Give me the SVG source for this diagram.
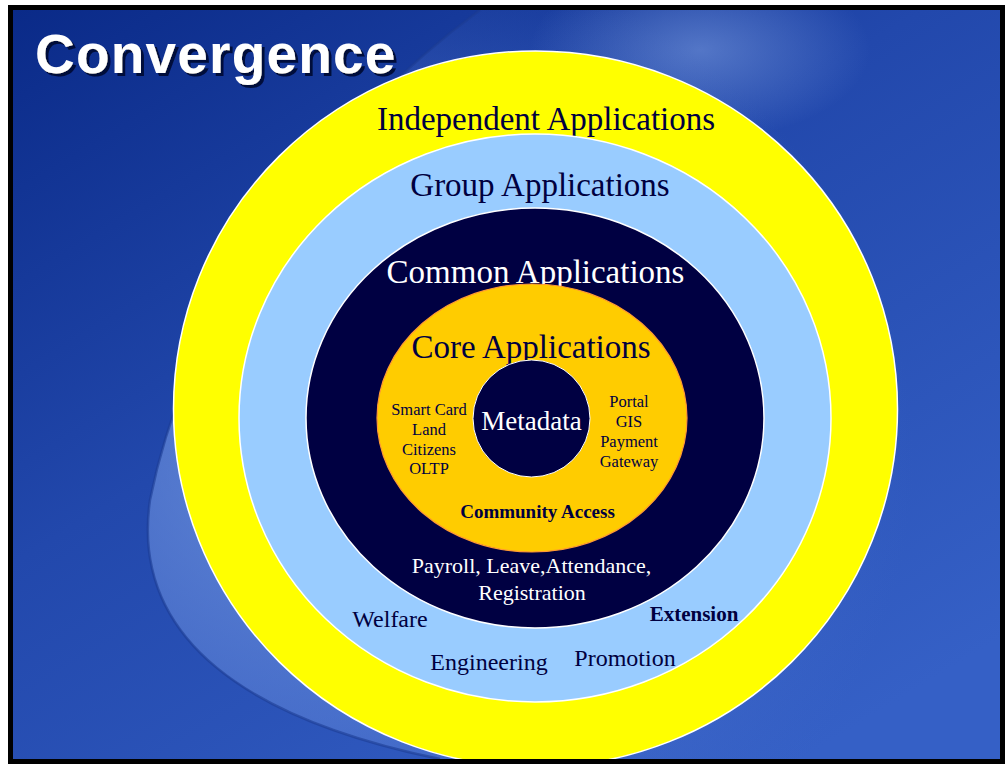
<svg xmlns="http://www.w3.org/2000/svg" width="1006" height="764" viewBox="0 0 1006 764">
<defs>
<linearGradient id="bg" x1="0" y1="0" x2="0.8" y2="1">
<stop offset="0" stop-color="#0a2a88"/>
<stop offset="0.45" stop-color="#2248ac"/>
<stop offset="1" stop-color="#3560c6"/>
</linearGradient>
<radialGradient id="sw" cx="0.2" cy="0.6" r="0.7">
<stop offset="0" stop-color="#7a9ee6" stop-opacity="0.75"/>
<stop offset="0.5" stop-color="#6a8fe0" stop-opacity="0.45"/>
<stop offset="1" stop-color="#4d74d0" stop-opacity="0"/>
</radialGradient>
<radialGradient id="hl" cx="0.5" cy="0.5" r="0.5">
<stop offset="0" stop-color="#7fa0e2" stop-opacity="0.55"/>
<stop offset="1" stop-color="#7fa0e2" stop-opacity="0"/>
</radialGradient>
<filter id="sh" x="-5%" y="-20%" width="115%" height="150%">
<feDropShadow dx="3" dy="3" stdDeviation="0.6" flood-color="#000a3a" flood-opacity="1"/>
</filter>
<clipPath id="slide"><rect x="13" y="10" width="987" height="749"/></clipPath>
<style>
.serif{font-family:"Liberation Serif","Times New Roman",serif;}
.navy{fill:#000040;}
.white{fill:#ffffff;}
.ring{stroke:#ffffff;stroke-width:1.5;}
</style>
</defs>
<rect x="0" y="0" width="1006" height="764" fill="#ffffff"/>
<rect x="8" y="5" width="997" height="759" fill="#000000"/>
<g clip-path="url(#slide)">
<rect x="13" y="10" width="987" height="749" fill="url(#bg)"/>
<path d="M480,10 C330,120 190,300 150,500 C130,640 250,720 440,759 L1000,759 L1000,10 Z" fill="url(#sw)"/>
<ellipse cx="700" cy="50" rx="170" ry="90" fill="url(#hl)"/>
<path d="M480,10 C330,120 190,300 150,500 C130,640 250,720 440,759" fill="none" stroke="#1c3c92" stroke-width="2.5" opacity="0.6"/>
<g id="independent">
<ellipse class="ring" cx="535.5" cy="409" rx="362" ry="358" fill="#ffff00"/>
<text class="serif navy" x="546" y="130" font-size="33" text-anchor="middle">Independent Applications</text>
</g>
<g id="group">
<ellipse class="ring" cx="535" cy="418" rx="296" ry="284" fill="#99ccff"/>
<text class="serif navy" x="540" y="196" font-size="33" text-anchor="middle">Group Applications</text>
<text class="serif navy" x="390" y="627" font-size="24" text-anchor="middle">Welfare</text>
<text class="serif navy" x="489" y="670" font-size="24" text-anchor="middle">Engineering</text>
<text class="serif navy" x="625" y="666" font-size="24" text-anchor="middle">Promotion</text>
<text class="serif navy" x="694" y="621" font-size="21" font-weight="bold" text-anchor="middle">Extension</text>
</g>
<g id="common">
<ellipse class="ring" cx="535" cy="418" rx="229" ry="210" fill="#000042"/>
<text class="serif white" x="535.5" y="283" font-size="33" text-anchor="middle">Common Applications</text>
<text class="serif white" x="531.5" y="573" font-size="22" text-anchor="middle">Payroll, Leave,Attendance,</text>
<text class="serif white" x="532" y="600" font-size="22" text-anchor="middle">Registration</text>
</g>
<g id="core">
<ellipse cx="532" cy="418" rx="155" ry="134" fill="#ffcc00" stroke="#ff9933" stroke-width="1.2"/>
<text class="serif navy" x="531" y="358" font-size="33" text-anchor="middle">Core Applications</text>
<text class="serif navy" font-size="16.5" text-anchor="middle"><tspan x="429" y="415">Smart Card</tspan><tspan x="429" y="435">Land</tspan><tspan x="429" y="455">Citizens</tspan><tspan x="429" y="474">OLTP</tspan></text>
<text class="serif navy" font-size="16.5" text-anchor="middle"><tspan x="629" y="407">Portal</tspan><tspan x="629" y="427">GIS</tspan><tspan x="629" y="447">Payment</tspan><tspan x="629" y="467">Gateway</tspan></text>
<text class="serif navy" x="537.5" y="518" font-size="19" font-weight="bold" text-anchor="middle">Community Access</text>
</g>
<g id="metadata">
<circle cx="531.5" cy="418.5" r="58.5" fill="#000042" stroke="#ffffff" stroke-width="1"/>
<text class="serif white" x="531.5" y="430" font-size="27" text-anchor="middle">Metadata</text>
</g>
<g id="connectors"/>
<g id="title">
<text x="35" y="73" fill="#ffffff" font-family="'Liberation Sans',Arial,sans-serif" font-size="55" font-weight="bold" letter-spacing="1.2" filter="url(#sh)">Convergence</text>
</g>
</g>
</svg>
